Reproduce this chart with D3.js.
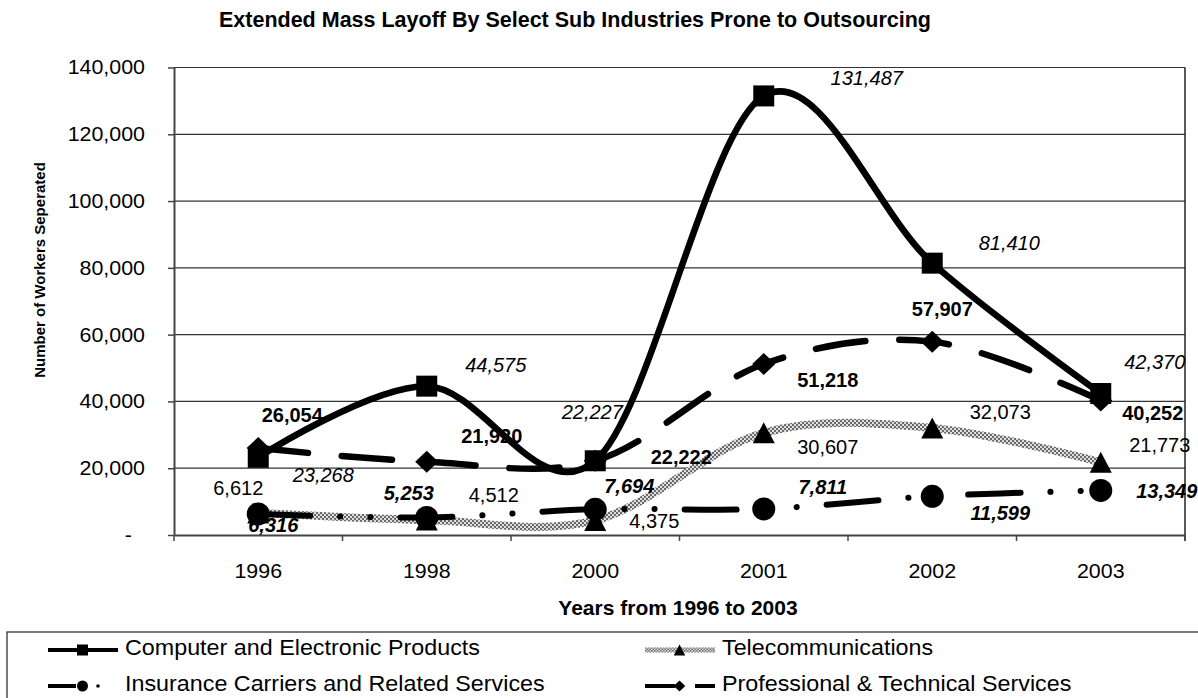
<!DOCTYPE html>
<html><head><meta charset="utf-8">
<script src="https://cdn.jsdelivr.net/npm/d3@7"></script>
<style>
html,body{margin:0;padding:0;background:#fff;}
svg{display:block;font-family:"Liberation Sans",Arial,sans-serif;}
</style></head><body>
<svg id="chart" width="1198" height="698"></svg>
<script>
// ---------- data ----------
const years = ["1996","1998","2000","2001","2002","2003"];
const computerValues = [23268, 44575, 22227, 131487, 81410, 42370];
const telecomValues = [6612, 4512, 4375, 30607, 32073, 21773];
const insuranceValues = [6316, 5253, 7694, 7811, 11599, 13349];
const professionalValues = [26054, 21920, 22222, 51218, 57907, 40252];
const seriesNames = ["Computer and Electronic Products", "Telecommunications",
  "Insurance Carriers and Related Services", "Professional & Technical Services"];
const yTickValues = [0, 20000, 40000, 60000, 80000, 100000, 120000, 140000];
const yTickLabels = ["-", "20,000", "40,000", "60,000", "80,000", "100,000", "120,000", "140,000"];
const chartTitle = "Extended Mass Layoff By Select Sub Industries Prone to Outsourcing";
const xTitle = "Years from 1996 to 2003";
const yTitle = "Number of Workers Seperated";

// ---------- label layout (offsets from the point, px) ----------
const labelDx = {
  computer: [65, 69, -3, 103, 77, 54],
  telecom: [-20, 67, 59, 64, 68, 59],
  insurance: [15, -18, 34, 59, 68, 66],
  professional: [34, 65, 86, 64, 10, 52]
};
const labelDy = {
  computer: [17, -21, -49, -18, -20, -32],
  telecom: [-25, -25, 0, 14, -16, -17],
  insurance: [11, -25, -24, -22, 17, 0],
  professional: [-33, -26, -4, 16, -33, 12]
};

const series = [
  {key: "computer", name: seriesNames[0], values: computerValues},
  {key: "telecom", name: seriesNames[1], values: telecomValues},
  {key: "insurance", name: seriesNames[2], values: insuranceValues},
  {key: "professional", name: seriesNames[3], values: professionalValues}
];
const styles = {
  computer: {stroke: "#000", width: 6.5, dash: null, cap: "round", marker: "square", lw: "normal", ls: "italic"},
  telecom: {stroke: "url(#checker)", width: 8, dash: null, cap: "butt", marker: "triangle", lw: "normal", ls: "normal"},
  insurance: {stroke: "#000", width: 6, dash: "52,30,0.1,30,0.1,30", cap: "round", marker: "circle", lw: "bold", ls: "italic"},
  professional: {stroke: "#000", width: 6.5, dash: "50,34", cap: "round", marker: "diamond", lw: "bold", ls: "normal"}
};

// ---------- setup ----------
const svg = d3.select("#chart");
const defs = svg.append("defs");
function makeChecker(id, cell) {
  const p = defs.append("pattern").attr("id", id).attr("width", cell * 2).attr("height", cell * 2)
    .attr("patternUnits", "userSpaceOnUse");
  p.append("rect").attr("width", cell * 2).attr("height", cell * 2).attr("fill", "#dedede");
  p.append("rect").attr("width", cell).attr("height", cell).attr("fill", "#6a6a6a");
  p.append("rect").attr("x", cell).attr("y", cell).attr("width", cell).attr("height", cell).attr("fill", "#6a6a6a");
}
makeChecker("checker", 2);
makeChecker("checkerSmall", 1.5);

const plotL = 174, plotR = 1185, plotT = 67.5, plotB = 535;
const x = d3.scaleBand().domain(years).range([plotL, plotR]);
const cx = d => x(d) + x.bandwidth() / 2;
const y = d3.scaleLinear().domain([0, 140000]).range([plotB, plotT]);

function stretch(sel, sx) {
  sel.each(function () {
    const t = d3.select(this);
    const xx = +t.attr("x") || 0;
    t.attr("x", xx / sx).attr("transform", `scale(${sx},1)`);
  });
}

// gridlines
svg.append("g")
  .selectAll("line").data(yTickValues.filter(v => v > 0)).join("line")
  .attr("x1", plotL).attr("x2", plotR)
  .attr("y1", d => y(d)).attr("y2", d => y(d))
  .attr("stroke", "#333").attr("stroke-width", 1.2);

// right border
svg.append("line").attr("x1", plotR).attr("x2", plotR).attr("y1", plotT).attr("y2", plotB + 6)
  .attr("stroke", "#222").attr("stroke-width", 1.5);

// y axis
const yAxis = svg.append("g").attr("transform", `translate(${plotL},0)`)
  .call(d3.axisLeft(y).tickValues(yTickValues).tickSize(6).tickSizeOuter(0).tickPadding(23)
    .tickFormat((d, i) => yTickLabels[i]));
yAxis.select(".domain").attr("stroke", "#444").attr("stroke-width", 2);
yAxis.selectAll(".tick line").attr("stroke", "#444").attr("stroke-width", 1.5);
yAxis.selectAll("text").attr("font-size", 20).attr("fill", "#000")
  .attr("font-family", "'Liberation Sans', Arial, sans-serif");
yAxis.selectAll(".tick text").filter(function () { return d3.select(this).text() === "-"; }).attr("x", -42);
stretch(yAxis.selectAll("text"), 1.07);

// x axis
const xAxis = svg.append("g").attr("transform", `translate(0,${plotB})`)
  .call(d3.axisBottom(x).tickSize(0).tickSizeOuter(0).tickPadding(29));
xAxis.select(".domain").attr("stroke", "#444").attr("stroke-width", 2);
xAxis.selectAll("text").attr("font-size", 20).attr("fill", "#000")
  .attr("font-family", "'Liberation Sans', Arial, sans-serif");
stretch(xAxis.selectAll("text"), 1.07);
svg.append("g").selectAll("line")
  .data(years.map(d => x(d)).concat([x.range()[1]])).join("line")
  .attr("x1", d => d).attr("x2", d => d).attr("y1", plotB).attr("y2", plotB + 6)
  .attr("stroke", "#444").attr("stroke-width", 1.5);

// ---------- series ----------
const curve = d3.curveCardinal.tension(0);
function markerPath(type, s) {
  if (type === "square") { const h = s / 2; return `M${-h},${-h}h${s}v${s}h${-s}Z`; }
  if (type === "triangle") { const w = s * 1.05, h = s; return `M0,${-h / 2}L${w / 2},${h / 2}L${-w / 2},${h / 2}Z`; }
  if (type === "diamond") { const w = s * 1.05, h = s; return `M0,${-h / 2}L${w / 2},0L0,${h / 2}L${-w / 2},0Z`; }
  const r = s / 2;
  return `M${r},0A${r},${r},0,1,1,${-r},0A${r},${r},0,1,1,${r},0Z`;
}
const markerSize = {square: 21, triangle: 21, circle: 23, diamond: 22};

series.forEach(s => {
  const st = styles[s.key];
  const pts = years.map((yr, i) => [cx(yr), y(s.values[i])]);
  const g = svg.append("g");
  g.append("path").attr("d", d3.line().curve(curve)(pts))
    .attr("fill", "none").attr("stroke", st.stroke).attr("stroke-width", st.width)
    .attr("stroke-linecap", st.cap).attr("stroke-linejoin", "round")
    .attr("stroke-dasharray", st.dash);
  g.selectAll("path.m").data(years).join("path").attr("class", "m")
    .attr("transform", (d, i) => `translate(${cx(d)},${y(s.values[i])})`)
    .attr("d", markerPath(st.marker, markerSize[st.marker]))
    .attr("fill", "#000");
});

// data labels
const fmt = d3.format(",");
series.forEach(s => {
  const st = styles[s.key];
  svg.append("g").selectAll("text").data(years).join("text")
    .attr("x", (d, i) => cx(d) + labelDx[s.key][i])
    .attr("y", (d, i) => y(s.values[i]) + labelDy[s.key][i])
    .attr("dy", "0.36em")
    .attr("text-anchor", "middle")
    .attr("font-size", 20)
    .attr("font-weight", st.lw).attr("font-style", st.ls)
    .attr("fill", "#000")
    .text((d, i) => fmt(s.values[i]));
});

// ---------- titles ----------
svg.append("text").attr("x", 575).attr("y", 27).attr("text-anchor", "middle")
  .attr("font-size", 21.5).attr("font-weight", "bold").text(chartTitle);
svg.append("text").attr("transform", "translate(45,270) rotate(-90)").attr("text-anchor", "middle")
  .attr("font-size", 15).attr("font-weight", "bold").text(yTitle);
svg.append("text").attr("x", 678).attr("y", 615).attr("text-anchor", "middle")
  .attr("font-size", 21).attr("font-weight", "bold").text(xTitle);

// ---------- legend ----------
svg.append("rect").attr("x", 7).attr("y", 632).attr("width", 1205).attr("height", 90)
  .attr("fill", "none").attr("stroke", "#333").attr("stroke-width", 1.3);
const legendPos = [
  {x: 48, y: 650, ty: 655}, {x: 645, y: 650, ty: 655},
  {x: 48, y: 686, ty: 691}, {x: 645, y: 686, ty: 691}
];
const legendDash = {computer: null, telecom: null, insurance: "28,100", professional: "30,20,20,50"};
series.forEach((s, i) => {
  const st = styles[s.key];
  const p = legendPos[i];
  const g = svg.append("g").attr("transform", `translate(${p.x},${p.y})`);
  g.append("line").attr("x1", 0).attr("x2", 70).attr("y1", 0).attr("y2", 0)
    .attr("stroke", s.key === "telecom" ? "url(#checkerSmall)" : "#000")
    .attr("stroke-width", s.key === "telecom" ? 5 : 4)
    .attr("stroke-linecap", "butt")
    .attr("stroke-dasharray", legendDash[s.key]);
  if (s.key === "insurance") {
    g.append("circle").attr("cx", 50).attr("cy", 0).attr("r", 1.8).attr("fill", "#000");
  }
  g.append("path").attr("transform", "translate(34.5,0)")
    .attr("d", markerPath(st.marker, 11)).attr("fill", "#000");
  const t = g.append("text").attr("x", 77).attr("y", p.ty - p.y)
    .attr("font-size", 22).attr("fill", "#000").text(s.name);
  stretch(t, 1.06);
});
</script>
</body></html>
